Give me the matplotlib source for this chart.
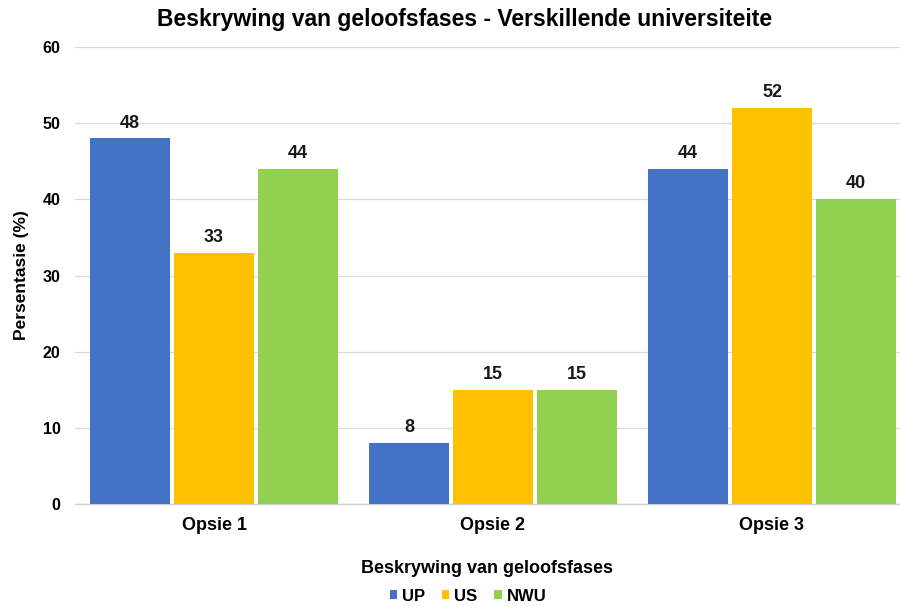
import numpy as np
import matplotlib.pyplot as plt

plt.rcParams['font.family'] = ['Liberation Sans', 'DejaVu Sans']

categories = ["Opsie 1", "Opsie 2", "Opsie 3"]
series = ["UP", "US", "NWU"]
up = [48, 8, 44]
us = [33, 15, 52]
nwu = [44, 15, 40]
colors = ["#4472C4", "#FFC000", "#92D050"]

fig = plt.figure(figsize=(9, 6.06), dpi=100)
ax = fig.add_axes([0.0828, 0.1683, 0.9172, 0.7541])

x = np.arange(len(categories))
width = 0.287
step = 0.301

for i, (name, vals) in enumerate(zip(series, [up, us, nwu])):
    pos = x + (i - 1) * step
    bars = ax.bar(pos, vals, width, color=colors[i], label=name, zorder=3)
    for b, v in zip(bars, vals):
        ax.text(b.get_x() + b.get_width() / 2, v + 0.9, str(v),
                ha="center", va="bottom", fontsize=13, fontweight="bold",
                color="#1a1a1a")

ax.set_xlim(-0.5, 2.459)
ax.set_ylim(0, 60)
ax.set_yticks(range(0, 61, 10))
ax.set_xticks(x)
ax.set_xticklabels(categories, fontsize=13, fontweight="bold")
ax.tick_params(axis="y", labelsize=11.5, length=0, pad=10)
ax.tick_params(axis="x", length=0, pad=9)
for lbl in ax.get_yticklabels():
    lbl.set_fontweight("bold")

ax.grid(axis="y", color="#D9D9D9", linewidth=0.9, zorder=0)
for s in ["top", "right", "left"]:
    ax.spines[s].set_visible(False)
ax.spines["bottom"].set_color("#D0D0D0")
ax.spines["bottom"].set_linewidth(1.0)

ax.set_ylabel("Persentasie (%)", fontsize=12.5, fontweight="bold", labelpad=10)
ax.set_xlabel("Beskrywing van geloofsfases", fontsize=13, fontweight="bold",
              labelpad=19)

fig.text(0.516, 0.968, "Beskrywing van geloofsfases - Verskillende universiteite",
         ha="center", va="center", fontsize=16.5, fontweight="bold")

leg = fig.legend(loc="center", bbox_to_anchor=(0.52, 0.016), ncol=3,
                 frameon=False, handlelength=0.45, handleheight=0.45,
                 handletextpad=0.3, columnspacing=1.0,
                 prop={"size": 12, "weight": "bold"})

fig.savefig("out.png", dpi=100)
